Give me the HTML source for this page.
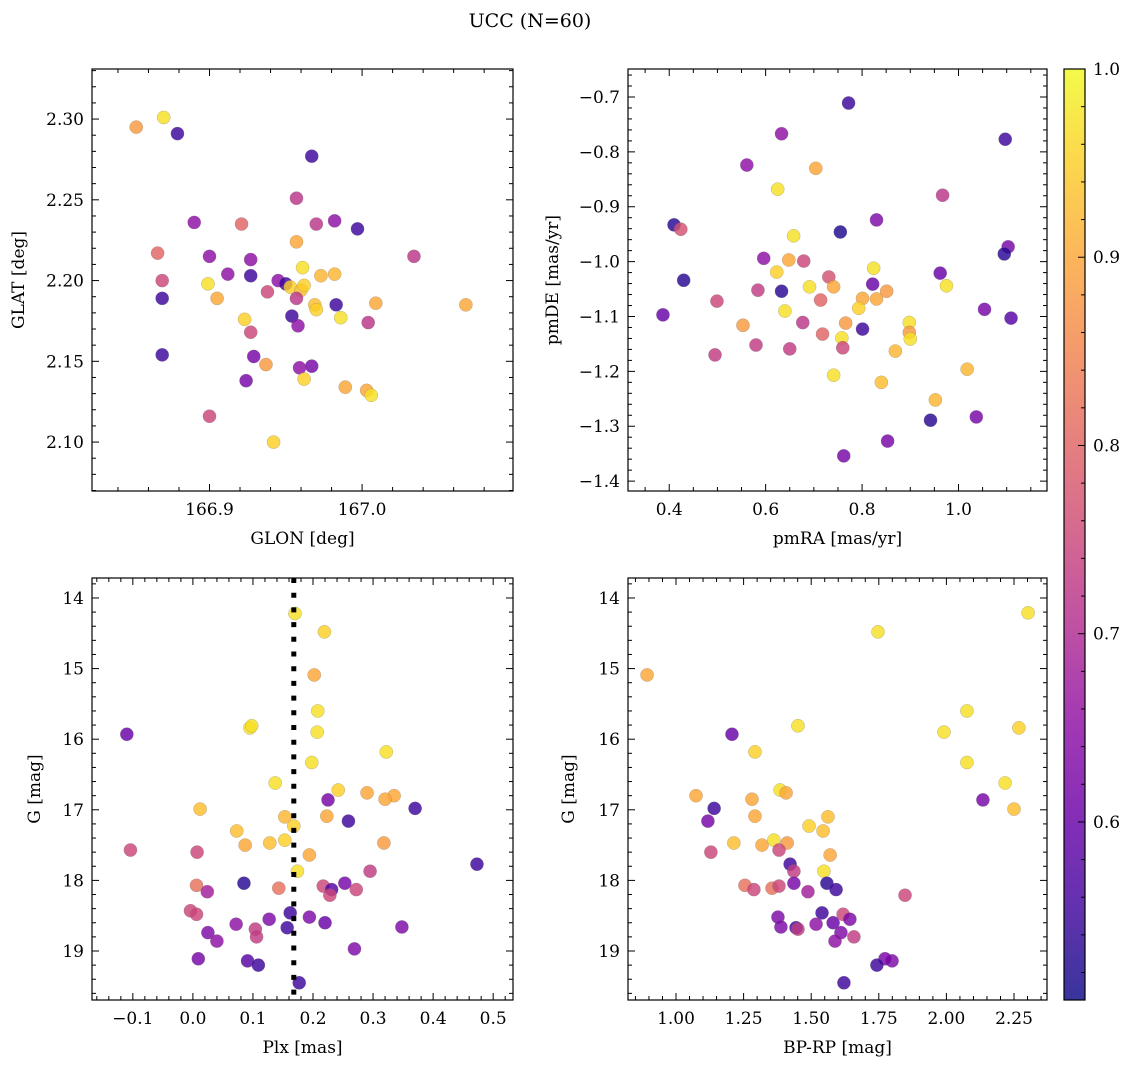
<!DOCTYPE html>
<html><head><meta charset="utf-8"><style>
body{margin:0;background:#fff;}
svg{display:block;font-family:"DejaVu Serif","Liberation Serif",serif;}
</style></head>
<body>
<svg id="fig" width="1136" height="1068" viewBox="0 0 1136 1068">
<text x="530" y="27" font-size="19" text-anchor="middle">UCC (N=60)</text>
</svg>
<script>
// Panel 1: GLON / GLAT
const p1x=[166.852,166.870,166.879,166.967,166.957,166.890,166.921,166.970,166.982,166.997,166.957,166.866,166.900,166.927,167.034,166.869,166.912,166.927,166.961,166.973,166.982,166.899,166.945,166.950,166.953,166.960,166.962,166.938,166.869,166.905,166.957,166.983,166.969,167.009,167.068,166.970,166.954,166.986,166.923,166.958,167.004,166.927,166.869,166.929,166.937,166.967,166.959,166.962,166.924,166.989,167.003,167.006,166.900,166.942];
const p1y=[2.295,2.301,2.291,2.277,2.251,2.236,2.235,2.235,2.237,2.232,2.224,2.217,2.215,2.213,2.215,2.200,2.204,2.203,2.208,2.203,2.204,2.198,2.200,2.198,2.196,2.194,2.197,2.193,2.189,2.189,2.189,2.185,2.185,2.186,2.185,2.182,2.178,2.177,2.176,2.172,2.174,2.168,2.154,2.153,2.148,2.147,2.146,2.139,2.138,2.134,2.132,2.129,2.116,2.100];
const p1c=[0.88,0.97,0.55,0.55,0.72,0.65,0.8,0.72,0.65,0.55,0.9,0.8,0.65,0.65,0.72,0.75,0.65,0.55,0.97,0.92,0.92,0.97,0.65,0.55,0.95,0.93,0.95,0.75,0.55,0.9,0.72,0.55,0.93,0.9,0.9,0.95,0.55,0.97,0.95,0.65,0.72,0.75,0.55,0.62,0.88,0.62,0.65,0.95,0.62,0.9,0.9,0.97,0.75,0.95];
// Panel 2: pmRA / pmDE
const p2x=[0.772,1.097,0.633,0.561,0.704,0.625,0.967,0.830,0.410,0.424,0.755,0.658,1.103,1.095,0.596,0.648,0.679,0.824,0.430,0.623,0.731,0.962,0.822,0.975,0.691,0.741,0.584,0.633,0.851,0.801,0.830,0.499,0.714,0.793,1.054,0.640,0.387,1.109,0.553,0.677,0.766,0.898,0.801,0.898,0.900,0.718,0.758,0.580,0.760,0.650,0.495,0.869,1.018,0.741,0.840,0.952,1.037,0.942,0.853,0.762];
const p2y=[-0.711,-0.777,-0.767,-0.824,-0.830,-0.868,-0.879,-0.924,-0.933,-0.941,-0.946,-0.953,-0.973,-0.986,-0.994,-0.997,-0.999,-1.012,-1.034,-1.019,-1.028,-1.021,-1.041,-1.044,-1.046,-1.046,-1.052,-1.054,-1.054,-1.067,-1.068,-1.072,-1.070,-1.085,-1.087,-1.090,-1.097,-1.103,-1.116,-1.111,-1.112,-1.111,-1.123,-1.129,-1.141,-1.132,-1.139,-1.152,-1.157,-1.159,-1.170,-1.163,-1.196,-1.207,-1.220,-1.252,-1.283,-1.289,-1.327,-1.354];
const p2c=[0.55,0.55,0.65,0.65,0.9,0.97,0.72,0.63,0.53,0.77,0.52,0.97,0.62,0.53,0.65,0.9,0.75,0.97,0.53,0.95,0.77,0.6,0.6,0.97,0.97,0.9,0.73,0.53,0.88,0.9,0.9,0.75,0.8,0.95,0.62,0.97,0.6,0.58,0.88,0.72,0.88,0.97,0.55,0.88,0.97,0.8,0.97,0.73,0.75,0.73,0.73,0.92,0.92,0.97,0.93,0.92,0.62,0.53,0.62,0.62];
// Panel 3: Plx / G
const p3x=[0.170,0.219,0.202,0.208,0.095,0.098,0.207,-0.110,0.322,0.198,0.137,0.242,0.290,0.335,0.320,0.225,0.012,0.370,0.153,0.223,0.259,0.168,0.073,0.153,0.128,0.087,0.318,-0.104,0.007,0.194,0.473,0.295,0.174,0.085,0.253,0.006,0.143,0.217,0.272,0.024,0.231,0.228,-0.004,0.006,0.162,0.127,0.194,0.072,0.220,0.348,0.157,0.025,0.104,0.106,0.040,0.269,0.009,0.091,0.109,0.177];
const p3y=[14.22,14.48,15.09,15.60,15.84,15.81,15.90,15.93,16.18,16.33,16.62,16.72,16.76,16.80,16.85,16.86,16.99,16.98,17.10,17.09,17.16,17.23,17.30,17.43,17.47,17.50,17.47,17.57,17.60,17.64,17.77,17.87,17.87,18.04,18.04,18.07,18.11,18.08,18.13,18.16,18.13,18.21,18.43,18.48,18.46,18.55,18.52,18.62,18.60,18.66,18.67,18.74,18.69,18.80,18.86,18.97,19.11,19.14,19.20,19.45];
const p3c=[0.97,0.95,0.9,0.97,0.97,0.97,0.97,0.6,0.97,0.97,0.97,0.95,0.9,0.9,0.9,0.62,0.93,0.55,0.92,0.9,0.55,0.95,0.93,0.95,0.93,0.9,0.88,0.75,0.75,0.9,0.55,0.73,0.97,0.53,0.62,0.82,0.82,0.75,0.75,0.68,0.58,0.75,0.75,0.75,0.55,0.63,0.63,0.65,0.6,0.63,0.55,0.63,0.73,0.73,0.65,0.63,0.62,0.58,0.55,0.55];
const plxMean=[0.168];
// Panel 4: BP-RP / G
const p4x=[2.302,1.747,0.893,2.076,1.451,1.991,2.268,1.207,1.292,2.076,2.217,1.385,1.407,1.074,1.281,2.135,1.141,2.250,1.118,1.292,1.562,1.492,1.544,1.214,1.318,1.362,1.411,1.129,1.381,1.570,1.422,1.436,1.547,1.558,1.436,1.255,1.355,1.381,1.288,1.488,1.592,1.847,1.618,1.540,1.643,1.377,1.518,1.581,1.388,1.444,1.451,1.610,1.658,1.588,1.799,1.773,1.743,1.621];
const p4y=[14.21,14.48,15.09,15.60,15.81,15.90,15.84,15.93,16.18,16.33,16.62,16.72,16.76,16.80,16.85,16.86,16.98,16.99,17.16,17.09,17.10,17.23,17.30,17.47,17.50,17.43,17.47,17.60,17.57,17.64,17.77,17.87,17.87,18.04,18.04,18.07,18.11,18.08,18.13,18.16,18.13,18.21,18.48,18.46,18.55,18.52,18.62,18.60,18.66,18.67,18.69,18.74,18.80,18.86,19.14,19.11,19.20,19.45];
const p4c=[0.97,0.97,0.9,0.97,0.97,0.97,0.95,0.6,0.95,0.97,0.97,0.97,0.9,0.9,0.9,0.62,0.55,0.93,0.62,0.9,0.93,0.95,0.93,0.93,0.9,0.97,0.88,0.75,0.75,0.9,0.55,0.73,0.97,0.53,0.62,0.82,0.82,0.75,0.75,0.68,0.55,0.75,0.75,0.55,0.63,0.63,0.65,0.6,0.63,0.55,0.73,0.63,0.73,0.65,0.63,0.62,0.55,0.55];
// Colorbar
const cbMin=0.5054, cbMax=1.0;
const cbTicks=[0.6,0.7,0.8,0.9,1.0];

const NS='http://www.w3.org/2000/svg';
const svg=document.getElementById('fig');
const FS=17;
function mk(tag,attrs,parent){const e=document.createElementNS(NS,tag);for(const k in attrs)e.setAttribute(k,attrs[k]);(parent||svg).appendChild(e);return e;}
const stops=[[13,8,135],[65,4,157],[106,0,168],[143,13,164],[177,42,144],[204,71,120],[225,100,98],[242,132,75],[252,166,54],[252,206,37],[240,249,33]];
function plasma(v){let t=(v-cbMin)/(cbMax-cbMin);t=Math.max(0,Math.min(1,t));const f=t*10,i=Math.min(9,Math.floor(f)),r=f-i;const a=stops[i],b=stops[i+1];return 'rgb('+a.map((x,k)=>Math.round(x+(b[k]-x)*r)).join(',')+')';}
function fmt(v,d){let s=v.toFixed(d);if(v<0&&parseFloat(s)!==0)s='\u2212'+s.slice(1);return s;}

function panel(o){
  const g=mk('g',{});
  
  
  const sx=v=>o.L+(v-o.x0)/(o.x1-o.x0)*(o.R-o.L);
  const sy=v=>o.T+(v-o.y0)/(o.y1-o.y0)*(o.B-o.T);
  const pts=mk('g',{},g);
  
  
  for(let i=0;i<o.xs.length;i++){
    const c=mk('circle',{cx:sx(o.xs[i]),cy:sy(o.ys[i]),r:6.6,fill:plasma(o.cs[i]),'fill-opacity':0.82,stroke:'#777','stroke-width':0.4,'stroke-opacity':0.6},pts);
    
    
  }
  if(o.vline!==undefined){
    const l=mk('line',{x1:sx(o.vline),x2:sx(o.vline),y1:o.T,y2:o.B,stroke:'#000','stroke-width':5,'stroke-dasharray':'5 9.7'},g);
    
    
  }
  const fr=mk('rect',{x:o.L,y:o.T,width:o.R-o.L,height:o.B-o.T,fill:'none',stroke:'#000','stroke-width':1.2},g);
  
  
  const tk=mk('g',{stroke:'#000','stroke-width':1},g);
  const lo=Math.min(o.x0,o.x1),hi=Math.max(o.x0,o.x1);
  for(let k=Math.ceil(lo/o.xmin-1e-6);k*o.xmin<=hi+1e-9;k++){
    const v=k*o.xmin;
    const isMaj=Math.abs(v/o.xmaj-Math.round(v/o.xmaj))<1e-4;const len=isMaj?7:4;const x=sx(v);
    mk('line',{x1:x,x2:x,y1:o.B,y2:o.B-len},tk);mk('line',{x1:x,x2:x,y1:o.T,y2:o.T+len},tk);
    if(isMaj){const t=mk('text',{x:x,y:o.B+24,'font-size':FS,'text-anchor':'middle',stroke:'none',fill:'#000'},g);t.textContent=fmt(v,o.xd);
      }
  }
  const ylo=Math.min(o.y0,o.y1),yhi=Math.max(o.y0,o.y1);
  for(let k=Math.ceil(ylo/o.ymin-1e-6);k*o.ymin<=yhi+1e-9;k++){
    const v=k*o.ymin;
    const isMaj=Math.abs(v/o.ymaj-Math.round(v/o.ymaj))<1e-4;const len=isMaj?7:4;const y=sy(v);
    mk('line',{x1:o.L,x2:o.L+len,y1:y,y2:y},tk);mk('line',{x1:o.R,x2:o.R-len,y1:y,y2:y},tk);
    if(isMaj){const t=mk('text',{x:o.L-8,y:y+6,'font-size':FS,'text-anchor':'end',stroke:'none',fill:'#000'},g);t.textContent=fmt(v,o.yd);
      }
  }
  const xl=mk('text',{x:(o.L+o.R)/2,y:o.B+53,'font-size':FS,'text-anchor':'middle'},g);xl.textContent=o.xlabel;
  
  const yx=o.L-o.ylOff,yy=(o.T+o.B)/2;
  const yl=mk('text',{x:yx,y:yy,'font-size':FS,'text-anchor':'middle',transform:'rotate(-90 '+yx+' '+yy+')'},g);yl.textContent=o.ylabel;
  
}

panel({name:'glon-glat-panel',L:92,R:513,T:69,B:491,x0:166.823,x1:167.0989,y0:2.331,y1:2.0697,xs:p1x,ys:p1y,cs:p1c,xmaj:0.1,xmin:0.02,xd:1,ymaj:0.05,ymin:0.01,yd:2,xlabel:'GLON [deg]',ylabel:'GLAT [deg]',ylOff:68});
panel({name:'pm-panel',L:628,R:1047,T:69,B:491,x0:0.3145,x1:1.1836,y0:-0.649,y1:-1.418,xs:p2x,ys:p2y,cs:p2c,xmaj:0.2,xmin:0.05,xd:1,ymaj:0.1,ymin:0.02,yd:1,xlabel:'pmRA [mas/yr]',ylabel:'pmDE [mas/yr]',ylOff:70});
panel({name:'plx-g-panel',L:92,R:513,T:578,B:1000,x0:-0.168,x1:0.533,y0:13.717,y1:19.694,xs:p3x,ys:p3y,cs:p3c,xmaj:0.1,xmin:0.02,xd:1,ymaj:1,ymin:0.2,yd:0,xlabel:'Plx [mas]',ylabel:'G [mag]',ylOff:52,vline:plxMean[0]});
panel({name:'cmd-panel',L:628,R:1047,T:578,B:1000,x0:0.8225,x1:2.372,y0:13.717,y1:19.694,xs:p4x,ys:p4y,cs:p4c,xmaj:0.25,xmin:0.05,xd:2,ymaj:1,ymin:0.2,yd:0,xlabel:'BP-RP [mag]',ylabel:'G [mag]',ylOff:54});

(function(){
  const L=1064,R=1085,T=69,B=1000;
  const g=mk('g',{});
  
  
  const defs=mk('defs',{},g);
  const lg=mk('linearGradient',{id:'cbg',x1:0,y1:1,x2:0,y2:0},defs);
  stops.forEach((s,i)=>{mk('stop',{offset:i/10,'stop-color':'rgb('+s.join(',')+')','stop-opacity':0.82},lg);});
  mk('rect',{x:L,y:T,width:R-L,height:B-T,fill:'url(#cbg)',stroke:'#000','stroke-width':1.2},g);
  const sy=v=>B-(v-cbMin)/(cbMax-cbMin)*(B-T);
  for(let k=26;k<=50;k++){const v=k*0.02;const y=sy(v);const maj=cbTicks.some(t=>Math.abs(t-v)<1e-4);
    mk('line',{x1:R,x2:R-(maj?7:4),y1:y,y2:y,stroke:'#000','stroke-width':1},g);}
  cbTicks.forEach(v=>{const t=mk('text',{x:R+8,y:sy(v)+6,'font-size':FS},g);t.textContent=v.toFixed(1);
    });
})();
</script>
</body></html>
